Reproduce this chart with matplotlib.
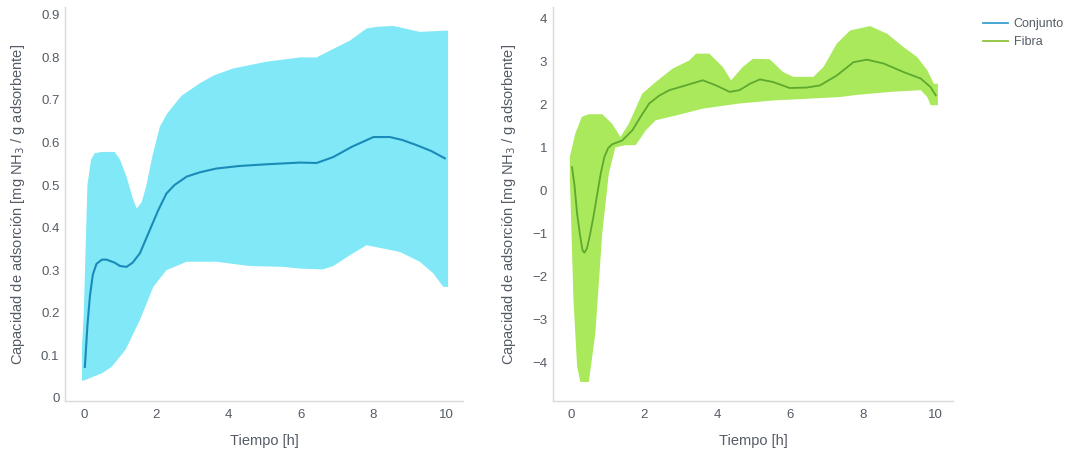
import matplotlib
matplotlib.use("Agg")
import matplotlib.pyplot as plt
from matplotlib.lines import Line2D

plt.rcParams['font.family'] = ['Liberation Sans', 'DejaVu Sans']

# Conjunto: mean line and band edges
conj_x = [0.03, 0.1, 0.17, 0.25, 0.35, 0.5, 0.63, 0.85, 1.0, 1.18, 1.35, 1.55, 1.8, 2.05, 2.28, 2.5, 2.84, 3.2, 3.66, 4.3, 5.05, 5.97, 6.43, 6.89, 7.4, 8.0, 8.45, 8.8, 9.19, 9.6, 9.97]
conj_y = [0.073, 0.17, 0.24, 0.29, 0.315, 0.325, 0.325, 0.318, 0.31, 0.308, 0.318, 0.34, 0.39, 0.44, 0.48, 0.5, 0.52, 0.53, 0.539, 0.545, 0.549, 0.553, 0.552, 0.566, 0.59, 0.613, 0.613, 0.606, 0.594, 0.58, 0.563]
conj_up_x = [-0.05, 0.0, 0.1, 0.2, 0.3, 0.5, 0.85, 1.0, 1.18, 1.35, 1.46, 1.6, 1.73, 1.9, 2.1, 2.3, 2.7, 3.2, 3.6, 4.12, 5.05, 5.97, 6.43, 6.89, 7.36, 7.81, 8.1, 8.55, 9.28, 10.02, 10.06]
conj_up_y = [0.12, 0.2, 0.5, 0.56, 0.575, 0.578, 0.578, 0.56, 0.52, 0.47, 0.445, 0.46, 0.5, 0.57, 0.637, 0.668, 0.71, 0.739, 0.758, 0.774, 0.79, 0.8, 0.8, 0.82, 0.84, 0.868, 0.872, 0.874, 0.86, 0.863, 0.863]
conj_lo_x = [-0.05, 0.03, 0.5, 0.77, 1.15, 1.55, 1.92, 2.28, 2.84, 3.66, 4.58, 5.5, 5.97, 6.6, 6.89, 7.36, 7.81, 8.73, 9.28, 9.65, 9.93, 10.06]
conj_lo_y = [0.04, 0.042, 0.058, 0.073, 0.113, 0.183, 0.261, 0.30, 0.32, 0.32, 0.31, 0.308, 0.304, 0.302, 0.31, 0.336, 0.359, 0.343, 0.32, 0.293, 0.261, 0.261]

# Fibra: mean line and band edges
fib_x = [0.01, 0.08, 0.15, 0.24, 0.3, 0.35, 0.42, 0.5, 0.6, 0.7, 0.8, 0.9, 1.0, 1.11, 1.39, 1.67, 1.9, 2.13, 2.4, 2.68, 3.05, 3.6, 3.97, 4.34, 4.61, 4.9, 5.17, 5.53, 5.99, 6.45, 6.82, 7.28, 7.74, 8.11, 8.57, 9.12, 9.59, 9.86, 10.0]
fib_y = [0.54, 0.1, -0.55, -1.1, -1.4, -1.45, -1.35, -1.05, -0.6, -0.1, 0.4, 0.78, 0.98, 1.07, 1.16, 1.40, 1.72, 2.02, 2.2, 2.33, 2.42, 2.56, 2.44, 2.29, 2.33, 2.48, 2.58, 2.52, 2.38, 2.39, 2.44, 2.67, 2.98, 3.04, 2.95, 2.75, 2.6, 2.4, 2.21]
fib_up_x = [-0.05, 0.1, 0.28, 0.47, 0.84, 1.11, 1.34, 1.57, 1.94, 2.31, 2.77, 3.23, 3.42, 3.78, 4.15, 4.38, 4.7, 4.98, 5.44, 5.81, 6.09, 6.64, 6.92, 7.28, 7.65, 8.2, 8.67, 9.12, 9.49, 9.77, 9.95, 10.06]
fib_up_y = [0.78, 1.32, 1.71, 1.77, 1.77, 1.55, 1.24, 1.55, 2.25, 2.52, 2.83, 3.02, 3.18, 3.18, 2.87, 2.56, 2.87, 3.06, 3.05, 2.75, 2.64, 2.64, 2.87, 3.41, 3.72, 3.82, 3.64, 3.33, 3.1, 2.79, 2.48, 2.48]
fib_lo_x = [-0.05, 0.05, 0.15, 0.24, 0.47, 0.65, 0.84, 1.02, 1.2, 1.48, 1.76, 2.04, 2.31, 2.86, 3.6, 4.61, 5.53, 6.45, 7.37, 7.83, 8.76, 9.59, 9.77, 9.86, 10.06]
fib_lo_y = [0.31, -2.56, -4.1, -4.46, -4.46, -3.33, -1.0, 0.39, 1.0, 1.05, 1.05, 1.40, 1.63, 1.74, 1.90, 2.02, 2.09, 2.13, 2.17, 2.22, 2.29, 2.33, 2.17, 1.98, 1.98]

series_names = ['Conjunto', 'Fibra']
x_ticks = [0, 2, 4, 6, 8, 10]
conj_ticks = [0, 0.1, 0.2, 0.3, 0.4, 0.5, 0.6, 0.7, 0.8, 0.9]
fib_ticks = [-4, -3, -2, -1, 0, 1, 2, 3, 4]

ylabel = 'Capacidad de adsorción [mg NH$_3$ / g adsorbente]'
grey = '#555b66'

fig = plt.figure(figsize=(10.65, 4.5), dpi=100)
ax1 = fig.add_axes([0.061, 0.109, 0.374, 0.875])
ax2 = fig.add_axes([0.519, 0.109, 0.376, 0.875])


def style(ax, yticks):
    for s in ['top', 'right']:
        ax.spines[s].set_visible(False)
    for s in ['left', 'bottom']:
        ax.spines[s].set_color('#d9d9d9')
        ax.spines[s].set_linewidth(1.0)
    ax.tick_params(length=0, labelsize=9.5, colors=grey)
    ax.tick_params(axis='y', pad=4)
    ax.tick_params(axis='x', pad=6)
    ax.set_xticks(x_ticks)
    ax.set_yticks(yticks)
    ax.set_xlim(-0.52, 10.48)
    ax.set_xlabel('Tiempo [h]', fontsize=10.5, color=grey, labelpad=9)
    ax.set_ylabel(ylabel, fontsize=10.5, color=grey, labelpad=10)


ax1.fill(conj_up_x + conj_lo_x[::-1], conj_up_y + conj_lo_y[::-1], color='#80e8f6', lw=0)
ax1.plot(conj_x, conj_y, color='#1b8ab8', lw=1.5)
style(ax1, conj_ticks)
ax1.set_yticklabels(['0'] + [f'{v:.1f}' for v in conj_ticks[1:]])
ax1.set_ylim(-0.007, 0.918)

ax2.fill(fib_up_x + fib_lo_x[::-1], fib_up_y + fib_lo_y[::-1], color='#a9e95b', lw=0)
ax2.plot(fib_x, fib_y, color='#5ea830', lw=1.3)
style(ax2, fib_ticks)
ax2.set_yticklabels([f'{v}'.replace('-', '\u2212') for v in fib_ticks])
ax2.set_ylim(-4.9, 4.26)

handles = [Line2D([], [], color='#3a9fd0', lw=1.3), Line2D([], [], color='#8cc43c', lw=1.3)]
fig.legend(handles, series_names, loc='upper left', bbox_to_anchor=(0.912, 0.985),
           frameon=False, fontsize=9, handlelength=2.0, handletextpad=0.5,
           labelspacing=0.5, labelcolor=grey)

fig.savefig('out.png', dpi=100)
